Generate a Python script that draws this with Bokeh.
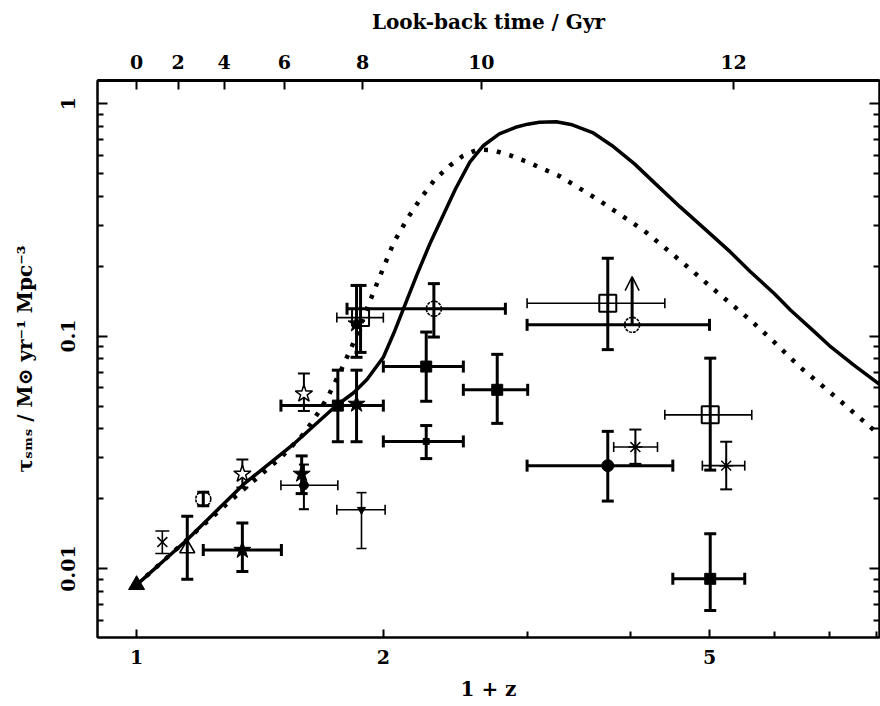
from bokeh.plotting import figure
from bokeh.models import (ColumnDataSource, Whisker, TeeHead, LogAxis, FixedTicker,
                          Arrow, OpenHead, Range1d, CustomJSTickFormatter)
from bokeh.embed import file_html
from bokeh.resources import INLINE

# ---------------- data ----------------
# model curves (x = 1+z, y = SFR density)
solid_x = [1.0, 1.15, 1.35, 1.55, 1.75, 1.84, 1.91, 2.0, 2.06, 2.12, 2.2, 2.28, 2.37, 2.45,
           2.55, 2.65, 2.77, 2.9, 3.0, 3.1, 3.25, 3.4, 3.6, 3.8, 4.05, 4.3, 4.6, 4.96, 5.3,
           5.6, 6.0, 6.28, 6.7, 7.0, 7.5, 8.06]
solid_y = [0.0085, 0.0132, 0.0230, 0.034, 0.050, 0.057, 0.065, 0.081, 0.103, 0.133, 0.185,
           0.25, 0.335, 0.43, 0.56, 0.66, 0.74, 0.79, 0.815, 0.83, 0.835, 0.81, 0.75, 0.66,
           0.55, 0.45, 0.36, 0.284, 0.23, 0.19, 0.152, 0.129, 0.105, 0.091, 0.075, 0.062]
dot_x = [1.0, 1.3, 1.5, 1.6, 1.668, 1.715, 1.787, 1.85, 1.9, 1.956, 2.06, 2.14, 2.22, 2.31,
         2.41, 2.5, 2.61, 2.72, 2.85, 3.0, 3.29, 3.68, 4.16, 4.65, 5.1, 5.61, 6.0, 6.45,
         7.2, 8.06]
dot_y = [0.0085, 0.0195, 0.030, 0.038, 0.0471, 0.0555, 0.0747, 0.098, 0.125, 0.162, 0.253,
         0.32, 0.39, 0.47, 0.54, 0.595, 0.635, 0.63, 0.60, 0.56, 0.485, 0.38, 0.284, 0.205,
         0.155, 0.117, 0.094, 0.0734, 0.053, 0.0375]

# filled squares
fsq_x = [1.76, 2.256, 2.754, 5.01]
fsq_y = [0.0502, 0.0739, 0.0587, 0.00903]
fsq_xlo = [1.50, 2.0, 2.504, 4.51]
fsq_xhi = [2.0, 2.504, 3.0, 5.52]
fsq_ylo = [0.0351, 0.0524, 0.0421, 0.0066]
fsq_yhi = [0.0713, 0.104, 0.0834, 0.0141]

# open squares
osq_x = [1.876, 3.757, 5.01]
osq_y = [0.120, 0.1384, 0.0458]
osq_xlo = [1.755, 2.995, 4.41]
osq_xhi = [2.0, 4.41, 5.63]
osq_ylo = [0.085, 0.0874, 0.0265]
osq_yhi = [0.165, 0.216, 0.0803]

# open circles
oci_x = [1.206, 2.305, 4.023]
oci_y = [0.0199, 0.131, 0.1117]
oci_xlo = [None, 1.806, 2.995]
oci_xhi = [None, 2.818, 5.0]
oci_ylo = [0.0186, 0.099, 0.080]
oci_yhi = [0.0213, 0.168, None]
# lower-limit arrow
arr_x = [4.023]
arr_from = [0.1117]
arr_to = [0.18]

# filled stars
fst_x = [1.346, 1.59, 1.855, 1.855]
fst_y = [0.012, 0.0255, 0.051, 0.113]
fst_xlo = [1.206, None, None, None]
fst_xhi = [1.502, None, None, None]
fst_ylo = [0.0097, 0.021, 0.0351, 0.081]
fst_yhi = [0.0157, 0.0305, 0.0713, 0.165]

# open stars
ost_x = [1.346, 1.60]
ost_y = [0.0255, 0.0564]
ost_ylo = [0.0223, 0.0476]
ost_yhi = [0.0294, 0.069]

# asterisks
ast_x = [4.06, 5.24]
ast_y = [0.0333, 0.0277]
ast_xlo = [3.82, 4.9]
ast_xhi = [4.32, 5.52]
ast_ylo = [0.0282, 0.0219]
ast_yhi = [0.0396, 0.0351]

# crosses
crs_x = [1.075]
crs_y = [0.013]
crs_ylo = [0.0116]
crs_yhi = [0.0145]

# open triangles
otr_x = [1.153]
otr_y = [0.0122]
otr_ylo = [0.0090]
otr_yhi = [0.0168]

# filled triangles
ftr_x = [1.0]
ftr_y = [0.0085]

# filled circles
fci_x = [3.757]
fci_y = [0.0277]
fci_xlo = [2.995]
fci_xhi = [4.51]
fci_ylo = [0.0195]
fci_yhi = [0.0389]

# small filled circles (thin bars)
sci_x = [1.60]
sci_y = [0.0228]
sci_xlo = [1.50]
sci_xhi = [1.76]
sci_ylo = [0.018]
sci_yhi = [0.028]

# small filled squares
ssq_x = [2.256]
ssq_y = [0.0352]
ssq_xlo = [2.0]
ssq_xhi = [2.504]
ssq_ylo = [0.0297]
ssq_yhi = [0.0412]

# inverted triangles
itr_x = [1.881]
itr_y = [0.0179]
itr_xlo = [1.755]
itr_xhi = [2.01]
itr_ylo = [0.0122]
itr_yhi = [0.0212]

# axes ticks
x_ticks = [1, 2, 5]
x_minor = [3, 4, 6, 7, 8]
y_ticks = [0.01, 0.1, 1]
y_minor = [0.005, 0.006, 0.007, 0.008, 0.009, 0.02, 0.03, 0.04, 0.05, 0.06, 0.07, 0.08,
           0.09, 0.2, 0.3, 0.4, 0.5, 0.6, 0.7, 0.8, 0.9]
lbt_pos = [1.0, 1.124, 1.279, 1.514, 1.887, 2.634, 5.35]
lbt_lab = ["0", "2", "4", "6", "8", "10", "12"]

# ---------------- figure ----------------
FONT = "DejaVu Serif"
p = figure(width=880, height=706, x_axis_type="log", y_axis_type="log",
           x_range=Range1d(0.896, 8.06), y_range=Range1d(0.00505, 1.256),
           output_backend="svg", toolbar_location=None,
           min_border_left=97, min_border_right=1, min_border_top=80, min_border_bottom=69)
p.grid.visible = False
p.outline_line_color = "black"
p.outline_line_width = 2
p.background_fill_color = "white"
p.border_fill_color = "white"


def style_axis(ax, labels=True):
    ax.major_tick_in = 10
    ax.major_tick_out = 0
    ax.minor_tick_in = 6
    ax.minor_tick_out = 0
    ax.axis_line_width = 2
    ax.major_tick_line_width = 2
    ax.minor_tick_line_width = 2
    ax.axis_line_color = "black"
    ax.major_tick_line_color = "black"
    ax.minor_tick_line_color = "black"
    ax.major_label_text_font = FONT
    ax.major_label_text_font_style = "bold"
    ax.major_label_text_font_size = "19px"
    ax.major_label_text_color = "black" if labels else None
    ax.axis_label_text_font = FONT
    ax.axis_label_text_font_style = "bold"
    ax.axis_label_text_font_size = "20px"
    ax.axis_label_text_color = "black"


fmt = CustomJSTickFormatter(code="return tick.toString();")

xa = p.xaxis[0]
xa.ticker = FixedTicker(ticks=x_ticks, minor_ticks=x_minor)
xa.formatter = fmt
xa.axis_label = "1 + z"
style_axis(xa)
xa.major_tick_in = 8
xa.major_label_standoff = 12
xa.axis_label_standoff = 10

ya = p.yaxis[0]
ya.ticker = FixedTicker(ticks=y_ticks, minor_ticks=y_minor)
ya.formatter = fmt
ya.axis_label = "τₛₘₛ / M⊙ yr⁻¹ Mpc⁻³"
style_axis(ya)
ya.major_label_orientation = "vertical"
ya.major_label_standoff = 22
ya.axis_label_standoff = 22

top = LogAxis(ticker=FixedTicker(ticks=lbt_pos, minor_ticks=[]),
              formatter=CustomJSTickFormatter(args=dict(labels=lbt_lab),
                                              code="return labels[index];"),
              axis_label="Look-back time / Gyr")
style_axis(top)
top.major_tick_in = 9
top.axis_line_width = 3
top.major_label_standoff = 12
top.axis_label_standoff = 18
p.add_layout(top, "above")

right = LogAxis(ticker=FixedTicker(ticks=y_ticks, minor_ticks=y_minor),
                formatter=fmt)
style_axis(right, labels=False)
right.major_label_text_font_size = "0px"
right.major_label_standoff = 0
p.add_layout(right, "right")

# ---------------- curves ----------------
p.line(solid_x, solid_y, line_color="black", line_width=3.5, line_join="round")
p.line(dot_x, dot_y, line_color="black", line_width=4.5, line_dash="4 9")


# ---------------- error bars ----------------
def ebars(x, y, lo, hi, dim, w, cap):
    xs, ys, los, his = [], [], [], []
    for a, b, l, h in zip(x, y, lo, hi):
        if l is None or h is None:
            continue
        xs.append(a); ys.append(b); los.append(l); his.append(h)
    if not xs:
        return
    if dim == "height":
        src = ColumnDataSource(dict(base=xs, lower=los, upper=his))
    else:
        src = ColumnDataSource(dict(base=ys, lower=los, upper=his))
    wk = Whisker(source=src, base="base", lower="lower", upper="upper", dimension=dim,
                 line_color="black", line_width=w,
                 lower_head=TeeHead(size=cap, line_width=w, line_color="black"),
                 upper_head=TeeHead(size=cap, line_width=w, line_color="black"))
    p.add_layout(wk)


THICK, THIN = 3, 1.6
ebars(fsq_x, fsq_y, fsq_xlo, fsq_xhi, "width", THICK, 12)
ebars(fsq_x, fsq_y, fsq_ylo, fsq_yhi, "height", THICK, 12)
ebars(osq_x, osq_y, osq_xlo, osq_xhi, "width", THIN, 10)
ebars(osq_x, osq_y, osq_ylo, osq_yhi, "height", THICK, 12)
ebars(oci_x, oci_y, oci_xlo, oci_xhi, "width", THICK, 12)
ebars(oci_x, oci_y, oci_ylo, oci_yhi, "height", THICK, 12)
ebars(fst_x, fst_y, fst_xlo, fst_xhi, "width", THICK, 12)
ebars(fst_x, fst_y, fst_ylo, fst_yhi, "height", THICK, 12)
ebars(ost_x, ost_y, ost_ylo, ost_yhi, "height", 2, 12)
ebars(ast_x, ast_y, ast_xlo, ast_xhi, "width", THIN, 10)
ebars(ast_x, ast_y, ast_ylo, ast_yhi, "height", 2, 12)
ebars(crs_x, crs_y, crs_ylo, crs_yhi, "height", THIN, 14)
ebars(otr_x, otr_y, otr_ylo, otr_yhi, "height", THICK, 12)
ebars(fci_x, fci_y, fci_xlo, fci_xhi, "width", THICK, 12)
ebars(fci_x, fci_y, fci_ylo, fci_yhi, "height", THICK, 12)
ebars(sci_x, sci_y, sci_xlo, sci_xhi, "width", THIN, 10)
ebars(sci_x, sci_y, sci_ylo, sci_yhi, "height", 2, 10)
ebars(ssq_x, ssq_y, ssq_xlo, ssq_xhi, "width", THICK, 12)
ebars(ssq_x, ssq_y, ssq_ylo, ssq_yhi, "height", THICK, 12)
ebars(itr_x, itr_y, itr_xlo, itr_xhi, "width", THIN, 10)
ebars(itr_x, itr_y, itr_ylo, itr_yhi, "height", THIN, 10)

for ax_, a0, a1 in zip(arr_x, arr_from, arr_to):
    p.add_layout(Arrow(x_start=ax_, y_start=a0, x_end=ax_, y_end=a1,
                       line_color="black", line_width=THICK,
                       end=OpenHead(size=14, line_width=1.5, line_color="black")))

# ---------------- markers ----------------
p.scatter(fsq_x, fsq_y, marker="square", size=11, fill_color="black", line_color="black")
p.scatter(osq_x, osq_y, marker="square", size=17, fill_color=None, line_color="black",
          line_width=2)
p.scatter(oci_x, oci_y, marker="circle", size=15, fill_color=None, line_color="black",
          line_width=1.6, line_dash="3 1")
p.scatter(fst_x, fst_y, marker="star", size=18, fill_color="black", line_color="black")
p.scatter(ost_x, ost_y, marker="star", size=18, fill_color="white", line_color="black",
          line_width=1.5)
p.scatter(ast_x, ast_y, marker="asterisk", size=14, line_color="black", line_width=1.5)
p.scatter(crs_x, crs_y, marker="x", size=14, line_color="black", line_width=1.6)
p.scatter(otr_x, otr_y, marker="triangle", size=15, fill_color=None, line_color="black",
          line_width=1.6)
p.scatter(ftr_x, ftr_y, marker="triangle", size=16, fill_color="black", line_color="black")
p.scatter(fci_x, fci_y, marker="circle", size=12, fill_color="black", line_color="black")
p.scatter(sci_x, sci_y, marker="circle", size=9, fill_color="black", line_color="black")
p.scatter(ssq_x, ssq_y, marker="square", size=6, fill_color="black", line_color="black")
p.scatter(itr_x, itr_y, marker="inverted_triangle", size=8, fill_color="black",
          line_color="black")

open("out.html", "w").write(file_html(p, INLINE))
